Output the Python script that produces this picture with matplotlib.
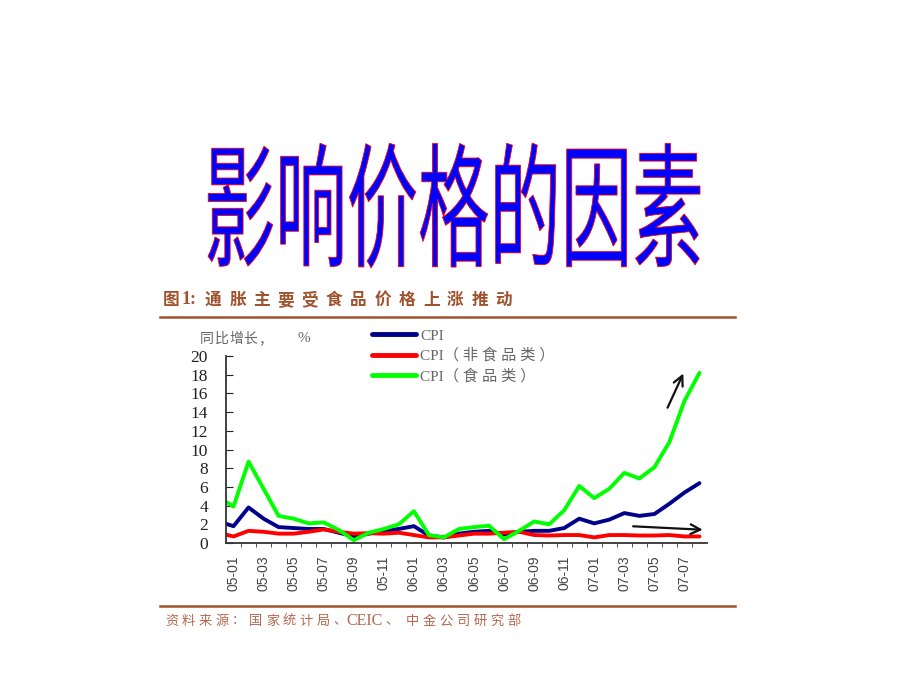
import matplotlib
matplotlib.use('Agg')
import matplotlib.pyplot as plt
from matplotlib.textpath import TextPath
from matplotlib.patches import PathPatch
from matplotlib.font_manager import FontProperties
from matplotlib.transforms import Affine2D
import numpy as np

plt.rcParams['font.family'] = ['Noto Sans CJK SC', 'DejaVu Sans']

# 月份（04-12 只用于画出左端被截断的线段）
months = ['04-12',
          '05-01', '05-02', '05-03', '05-04', '05-05', '05-06', '05-07', '05-08',
          '05-09', '05-10', '05-11', '05-12',
          '06-01', '06-02', '06-03', '06-04', '06-05', '06-06', '06-07', '06-08',
          '06-09', '06-10', '06-11', '06-12',
          '07-01', '07-02', '07-03', '07-04', '07-05', '07-06', '07-07', '07-08']

cpi = [2.3,
       1.8, 3.8, 2.6, 1.7, 1.6, 1.5, 1.5, 1.1, 0.7, 1.0, 1.3, 1.5,
       1.8, 0.8, 0.6, 1.0, 1.2, 1.3, 0.9, 1.2, 1.3, 1.3, 1.6, 2.6,
       2.1, 2.5, 3.2, 2.9, 3.1, 4.2, 5.4, 6.4]
cpi_nonfood = [1.1,
               0.7, 1.3, 1.2, 1.0, 1.0, 1.2, 1.45, 1.2, 1.0, 1.05, 1.0, 1.1,
               0.85, 0.6, 0.6, 0.8, 1.0, 1.0, 1.1, 1.2, 0.85, 0.8, 0.85, 0.85,
               0.6, 0.85, 0.85, 0.8, 0.8, 0.85, 0.7, 0.7]
cpi_food = [4.9,
            3.9, 8.7, 5.8, 2.9, 2.6, 2.1, 2.2, 1.4, 0.3, 1.1, 1.5, 2.0,
            3.4, 0.85, 0.6, 1.5, 1.7, 1.85, 0.4, 1.3, 2.3, 2.0, 3.5, 6.1,
            4.8, 5.8, 7.5, 6.9, 8.1, 10.8, 15.2, 18.2]

tick_labels = ['05-01', '05-03', '05-05', '05-07', '05-09', '05-11',
               '06-01', '06-03', '06-05', '06-07', '06-09', '06-11',
               '07-01', '07-03', '07-05', '07-07']

brown = '#a0522d'

fig = plt.figure(figsize=(9.2, 6.9), dpi=100)

# 背景层：像素坐标
bg = fig.add_axes([0, 0, 1, 1])
bg.set_xlim(0, 920)
bg.set_ylim(690, 0)
bg.axis('off')

# 大标题（拉伸到参考图的框内）
tp = TextPath((0, 0), '影响价格的因素', size=1,
              prop=FontProperties(family='Noto Sans CJK SC'))
ext = tp.get_extents()
sx = (700 - 208) / ext.width
sy = (268 - 143) / ext.height
tr = Affine2D().translate(-ext.x0, -ext.y0).scale(sx, -sy).translate(208, 268) + bg.transData
bg.add_patch(PathPatch(tp, facecolor='#0000ff', edgecolor='#ff0000', lw=0.6, transform=tr))


def spaced(x, y, s, step, **kw):
    # 逐字排版，模仿原图的宽字距
    for ch in s:
        bg.text(x, y, ch, va='center', ha='left', **kw)
        x += step * (0.6 if ch.isascii() else 1.0)


spaced(163, 300, '图', 24, fontsize=12, color=brown, fontweight='bold')
bg.text(182, 300, '1:', va='center', ha='left', fontsize=13, color=brown,
        fontweight='bold', family='Liberation Serif')
spaced(205, 300, '通胀主要受食品价格上涨推动', 24.2, fontsize=12, color=brown, fontweight='bold')

bg.plot([160, 735], [317, 317], color=brown, lw=1.8)
bg.plot([160, 735], [606, 606], color=brown, lw=1.8)

src_color = '#b5674f'
spaced(165, 621, '资料来源：国家统计局、', 16.8, fontsize=9.5, color=src_color)
bg.text(346, 621, 'CEIC', va='center', ha='left', fontsize=11.5, color=src_color,
        family='Liberation Serif')
spaced(385, 621, '、', 16.8, fontsize=9.5, color=src_color)
spaced(406, 621, '中金公司研究部', 16.8, fontsize=9.5, color=src_color)

spaced(200, 339, '同比增长，', 14.5, fontsize=10, color='#666666')
bg.text(298, 339, '%', va='center', ha='left', fontsize=11, color='#666666',
        family='Liberation Serif')

# 主图
ax = fig.add_axes([226 / 920, 1 - 543 / 690, 481 / 920, 187 / 690])
x = np.arange(len(months))
ax.plot(x, cpi, color='#00008b', lw=2.8, label='CPI', solid_capstyle='round')
ax.plot(x, cpi_nonfood, color='#ff0000', lw=2.8, label='CPI（ 非 食 品 类 ）', solid_capstyle='round')
ax.plot(x, cpi_food, color='#00ff00', lw=2.8, label='CPI（ 食 品 类 ）', solid_capstyle='round')

ax.set_xlim(0.5, len(months) - 0.5)
ax.set_ylim(0, 20)
ax.set_yticks(np.arange(0, 21, 2))
ax.tick_params(axis='y', direction='in', length=5, pad=13, labelsize=12.5, colors='#222222')
for t in ax.get_yticklabels():
    t.set_family('Liberation Serif')

pos = [months.index(m) for m in tick_labels]
ax.set_xticks(pos)
ax.set_xticklabels(tick_labels, rotation=90, family='Liberation Sans', fontsize=10, color='#444444')
ax.set_xticks(np.arange(1.5, len(months) - 0.5, 1.0), minor=True)
ax.tick_params(axis='x', which='major', length=0, pad=9)
ax.tick_params(axis='x', which='minor', direction='out', length=3, color='#333333')

for s in ['top', 'right']:
    ax.spines[s].set_visible(False)
for s in ['left', 'bottom']:
    ax.spines[s].set_color('#333333')
    ax.spines[s].set_linewidth(1.3)

ax.annotate('', xy=(31.0, 18.4), xytext=(29.8, 14.2), annotation_clip=False,
            arrowprops=dict(arrowstyle='->,head_length=0.7,head_width=0.35', color='#111111', lw=1.6))
ax.annotate('', xy=(32.4, 1.4), xytext=(27.4, 1.8), annotation_clip=False,
            arrowprops=dict(arrowstyle='->,head_length=0.7,head_width=0.35', color='#111111', lw=1.6))

leg = ax.legend(loc='upper left', bbox_to_anchor=(372 / 920, 1 - 329 / 690),
                bbox_transform=fig.transFigure, frameon=False, fontsize=11,
                handlelength=2.9, handletextpad=0.25, labelspacing=0.35,
                borderpad=0, borderaxespad=0)
for t in leg.get_texts():
    t.set_color('#666666')
    t.set_family(['Liberation Serif', 'Noto Sans CJK SC'])
for h in leg.get_lines():
    h.set_linewidth(3.5)

fig.savefig('out.png', dpi=100)
